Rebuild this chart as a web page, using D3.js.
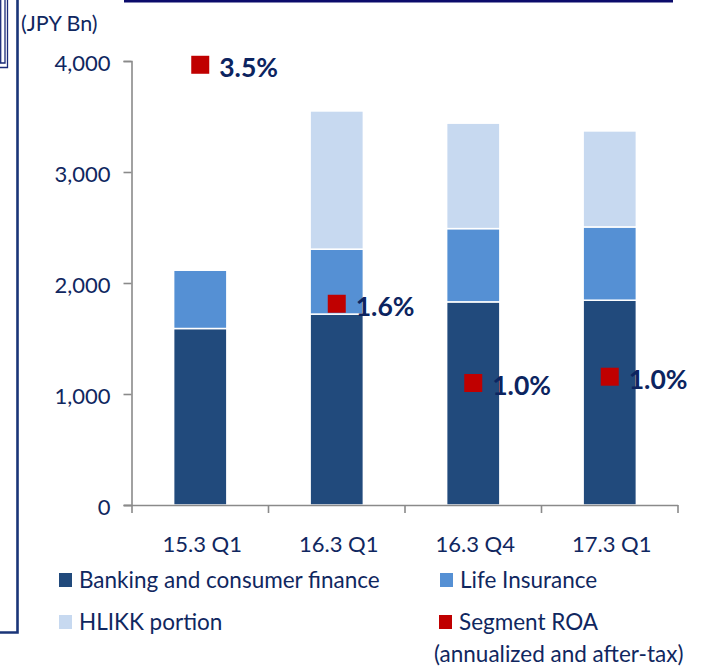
<!DOCTYPE html>
<html lang="en">
<head>
<meta charset="UTF-8">
<title>Segment assets and ROA</title>
<style>
  body { margin: 0; background: #fff; }
  svg text { font-family: Lato, "Open Sans", sans-serif; fill: #10275f; }
</style>
</head>
<body>
<svg id="chart" width="704" height="668"></svg>
<script src="https://cdn.jsdelivr.net/npm/d3@7"></script>
<script>
// values (JPY Bn)
var categories = ["15.3 Q1", "16.3 Q1", "16.3 Q4", "17.3 Q1"];
var banking = [1590, 1720, 1830, 1845];
var life = [525, 585, 660, 660];
var hlikk = [0, 1245, 950, 865];
var roa = [3.5, 1.6, 0.97, 1.02];   // segment ROA, %
var yTicks = [0, 1000, 2000, 3000, 4000];

var seriesKeys = ["banking", "life", "hlikk"];
var seriesNames = ["Banking and consumer finance", "Life Insurance", "HLIKK portion"];
var colors = { banking: "#214a7c", life: "#5590d4", hlikk: "#c7d9f0" };
var navy = "#10275f";

var rows = categories.map(function (c, i) {
  return { cat: c, banking: banking[i], life: life[i], hlikk: hlikk[i], roa: roa[i] };
});

var svg = d3.select("#chart");

// frame fragments around the slide
var frame = svg.append("g").attr("fill", "none");
frame.append("line").attr("x1", 124).attr("x2", 673).attr("y1", 1.2).attr("y2", 1.2)
  .attr("stroke", "#0b0b6b").attr("stroke-width", 2.6);
frame.append("path").attr("d", "M17.5,0V632.5H0")
  .attr("stroke", "#1a3578").attr("stroke-width", 2.6);
frame.append("path").attr("d", "M5,0V63H0").attr("stroke", "#1a2a78").attr("stroke-width", 1.3);
frame.append("path").attr("d", "M7.5,0V67.5H0").attr("stroke", "#1a2a78").attr("stroke-width", 1.3);
frame.append("line").attr("x1", 0.7).attr("x2", 0.7).attr("y1", 0).attr("y2", 63)
  .attr("stroke", "#1a2a78").attr("stroke-width", 1.3);

var x = d3.scaleBand().domain(categories).range([132, 678]);
var y = d3.scaleLinear().domain([0, 4000]).range([505, 61]);
var yRoa = d3.scaleLinear().domain([0, 3.53]).range([505, 61]);
var barW = x.bandwidth() * 0.39;

var stack = d3.stack().keys(seriesKeys)(rows);

svg.append("g").selectAll("g")
  .data(stack)
  .join("g")
  .attr("fill", function (s) { return colors[s.key]; })
  .selectAll("rect")
  .data(function (s) { return s.filter(function (d) { return d[1] > d[0]; }); })
  .join("rect")
  .attr("x", function (d) { return x(d.data.cat) + (x.bandwidth() - barW) / 2; })
  .attr("y", function (d) { return y(d[1]); })
  .attr("width", barW)
  .attr("height", function (d) { return y(d[0]) - y(d[1]); })
  .attr("stroke", "#fff")
  .attr("stroke-width", 1.5);

// y axis
var yAxis = svg.append("g")
  .attr("transform", "translate(131.5,0)")
  .call(d3.axisLeft(y).tickValues(yTicks).tickFormat(d3.format(",")).tickSize(8).tickPadding(13));
yAxis.select(".domain").attr("stroke", "#8a8a8a").attr("stroke-width", 1.6);
yAxis.selectAll(".tick line").attr("stroke", "#8a8a8a").attr("stroke-width", 1.6);
yAxis.selectAll(".tick text")
  .attr("font-size", 22).attr("dy", "0.45em").style("fill", navy);

// x axis: line with ticks at category boundaries
var xAxis = svg.append("g").attr("stroke", "#8a8a8a").attr("stroke-width", 1.6);
xAxis.append("line").attr("x1", 124).attr("x2", x.range()[1])
  .attr("y1", y(0) + 0.5).attr("y2", y(0) + 0.5);
xAxis.selectAll(".xt")
  .data(categories.concat(["end"]))
  .join("line")
  .attr("class", "xt")
  .attr("x1", function (d, i) { return x.range()[0] + i * x.step(); })
  .attr("x2", function (d, i) { return x.range()[0] + i * x.step(); })
  .attr("y1", y(0)).attr("y2", y(0) + 8);

svg.append("g").selectAll("text")
  .data(categories)
  .join("text")
  .attr("x", function (d) { return x(d) + x.bandwidth() / 2 + 2; })
  .attr("y", 552)
  .attr("text-anchor", "middle")
  .attr("font-size", 22)
  .text(function (d) { return d; });

// unit label
svg.append("text").attr("x", 21).attr("y", 31).attr("font-size", 21.5).text("(JPY Bn)");

// ROA markers and labels
var pts = svg.append("g");
pts.selectAll("rect")
  .data(rows)
  .join("rect")
  .attr("x", function (d) { return x(d.cat) + x.bandwidth() / 2 - 9; })
  .attr("y", function (d) { return yRoa(d.roa) - 9; })
  .attr("width", 18).attr("height", 18)
  .attr("fill", "#c00000");
pts.selectAll("text")
  .data(rows)
  .join("text")
  .attr("x", function (d) { return x(d.cat) + x.bandwidth() / 2 + 19; })
  .attr("y", function (d) { return yRoa(d.roa); })
  .attr("dy", "0.45em")
  .attr("font-size", 26.5)
  .attr("font-weight", "bold")
  .style("fill", "#0c2460")
  .text(function (d) { return d.roa.toFixed(1) + "%"; });

// legend
var legendItems = [
  { name: seriesNames[0], color: colors.banking, x: 59, y: 588 },
  { name: seriesNames[1], color: colors.life, x: 440, y: 588 },
  { name: seriesNames[2], color: colors.hlikk, x: 59, y: 630 },
  { name: "Segment ROA", color: "#c00000", x: 439, y: 630 }
];
var lg = svg.append("g").selectAll("g")
  .data(legendItems)
  .join("g")
  .attr("transform", function (d) { return "translate(" + d.x + "," + d.y + ")"; });
lg.append("rect").attr("x", 0).attr("y", -15).attr("width", 13).attr("height", 14)
  .attr("fill", function (d) { return d.color; });
lg.append("text").attr("x", 20).attr("y", 0).attr("font-size", 22.5)
  .text(function (d) { return d.name; });
svg.append("text").attr("x", 434).attr("y", 662).attr("font-size", 22.5)
  .text("(annualized and after-tax)");
</script>
</body>
</html>
